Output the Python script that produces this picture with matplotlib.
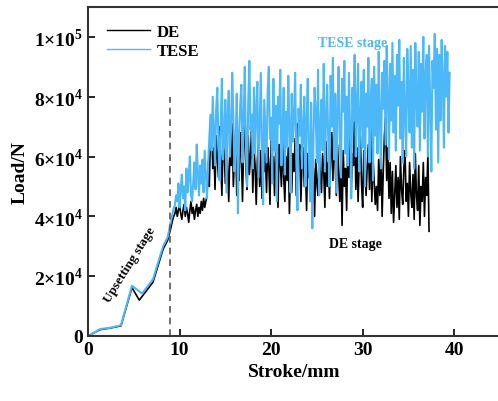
import matplotlib
matplotlib.use("Agg")
import matplotlib.pyplot as plt
import numpy as np

plt.rcParams["font.family"] = "Liberation Serif"
plt.rcParams["font.weight"] = "bold"
plt.rcParams["mathtext.fontset"] = "custom"
plt.rcParams["mathtext.rm"] = "Liberation Serif:bold"
plt.rcParams["mathtext.bf"] = "Liberation Serif:bold"

# upsetting stage (stroke mm, load kN)
de_up_x = [0, 0.5, 1.3, 2.5, 3.6, 4.8, 5.6, 7.1, 8.2, 8.7, 9.0, 9.3]
de_up_y = [0, 0.8, 2.1, 2.7, 3.4, 16.2, 12.0, 18.0, 29.0, 32.0, 35.5, 39.5]
tese_up_x = [0, 0.5, 1.3, 2.5, 3.6, 4.8, 5.9, 7.1, 8.2, 8.7, 9.0, 9.3]
tese_up_y = [0, 0.8, 2.3, 2.8, 3.6, 16.8, 14.2, 19.0, 30.0, 33.0, 37.5, 42.0]

# steady part, sampled every 0.125 mm from 9.5 mm (kN)
step = 0.125
de_load = [
    41, 43, 40, 42, 44, 41, 39, 42,
    44, 40, 43, 41, 38, 42, 45, 41,
    43, 39, 42, 44, 40, 43, 41, 45,
    42, 46, 43, 45, 47, 58, 50, 68,
    72, 56, 63, 49, 67, 60, 53, 70,
    58, 47, 65, 62, 51, 69, 55, 45,
    63, 57, 71, 50, 60, 66, 47, 58,
    52, 68, 61, 45, 64, 72, 56, 49,
    67, 54, 60, 70, 48, 63, 57, 44,
    59, 65, 50, 62, 46, 68, 55, 61,
    48, 63, 57, 44, 66, 52, 60, 47,
    62, 55, 43, 64, 58, 50, 67, 53,
    45, 60, 52, 63, 41, 57, 48, 61,
    55, 66, 47, 71, 59, 64, 45, 58,
    63, 50, 57, 42, 61, 53, 66, 49,
    44, 56, 40, 59, 51, 47, 62, 54,
    48, 61, 55, 43, 65, 50, 58, 46,
    60, 68, 52, 74, 57, 47, 64, 55,
    45, 59, 37, 62, 50, 56, 42, 65,
    53, 70, 48, 61, 57, 76, 49, 63,
    45, 58, 67, 51, 43, 62, 55, 47,
    57, 64, 49, 70, 45, 60, 52, 44,
    50, 42, 59, 47, 62, 40, 55, 67,
    73, 52, 63, 46, 58, 41, 55, 38,
    47, 57, 43, 53, 39, 60, 49, 44,
    56, 62, 45, 51, 40, 58, 48, 43,
    54, 39, 61, 47, 42, 57, 37, 50,
    45, 58, 40, 53, 47, 61, 35,
]
tese_load = [
    44, 47, 45, 51, 43, 49, 54, 46,
    50, 42, 56, 48, 53, 60, 47, 45,
    52, 58, 49, 64, 55, 47, 57, 51,
    59, 48, 62, 54, 46, 58, 66, 74,
    62, 80, 68, 57, 76, 83, 64, 52,
    71, 86, 59, 66, 79, 48, 74, 82,
    60, 69, 88, 73, 55, 64, 81, 41,
    67, 77, 84, 58, 72, 90, 63, 50,
    78, 92, 69, 74, 56, 83, 61, 76,
    85, 53, 70, 88, 64, 44, 79, 68,
    58, 82, 90, 66, 73, 51, 86, 62,
    77, 45, 80, 71, 89, 57, 68, 83,
    54, 75, 63, 87, 70, 48, 81, 65,
    73, 88, 59, 42, 76, 67, 84, 56,
    69, 80, 50, 72, 86, 61, 45, 78,
    36, 66, 83, 74, 58, 89, 47, 71,
    79, 62, 91, 55, 73, 84, 64, 50,
    87, 70, 93, 59, 81, 48, 76, 90,
    66, 53, 86, 75, 92, 61, 80, 57,
    88, 69, 46, 83, 72, 94, 60, 77,
    91, 55, 74, 85, 63, 89, 50, 81,
    70, 93, 58, 79, 86, 52, 90, 67,
    84, 61, 95, 73, 56, 88, 76, 92,
    64, 97, 80, 59, 91, 72, 98, 68,
    87, 62, 94, 77, 99, 66, 85, 58,
    93, 74, 60, 96, 81, 68, 97, 63,
    89, 56, 98, 79, 70, 95, 62, 91,
    75, 100, 66, 87, 94, 60, 97, 78,
    55, 92, 83, 101, 69, 96, 58, 94,
    72, 99, 86, 63, 97, 80, 95, 68,
    88,
]

x_ticks = [0, 10, 20, 30, 40]
y_ticks = [0, 2e4, 4e4, 6e4, 8e4, 1e5]
y_labels = ["0", r"$2{\times}10^{4}$", r"$4{\times}10^{4}$", r"$6{\times}10^{4}$",
            r"$8{\times}10^{4}$", r"$1{\times}10^{5}$"]

de_x = np.concatenate([de_up_x, 9.5 + step * np.arange(len(de_load))])
de_y = np.concatenate([de_up_y, de_load]) * 1000
tese_x = np.concatenate([tese_up_x, 9.5 + step * np.arange(len(tese_load))])
tese_y = np.concatenate([tese_up_y, tese_load]) * 1000

blue = "#4DB8F8"

fig = plt.figure(figsize=(4.98, 4.02), dpi=100)
ax = fig.add_axes([0.1767, 0.1617, 0.8273, 0.8184])

ax.plot(de_x, de_y, color="black", lw=1.2, label="DE")
ax.plot(tese_x, tese_y, color=blue, lw=1.5, label="TESE")
ax.plot([9, 9], [0, 8e4], color="#555555", lw=1.2, ls=(0, (4, 3)))

ax.set_xlim(0, 45)
ax.set_ylim(0, 1.1e5)
ax.set_xticks(x_ticks)
ax.set_yticks(y_ticks)
ax.set_yticklabels(y_labels)
ax.tick_params(direction="in", labelsize=14, width=1.2, length=5)
for lab in ax.get_xticklabels():
    lab.set_fontweight("bold")
ax.set_xlabel("Stroke/mm", fontsize=14, fontweight="bold")
ax.set_ylabel("Load/N", fontsize=14, fontweight="bold")
for s in ["left", "bottom", "top"]:
    ax.spines[s].set_linewidth(1.5)
    ax.spines[s].set_color("#333333")
ax.spines["right"].set_visible(False)

ax.text(28.9, 98000, "TESE stage", color=blue, fontsize=10, fontweight="bold",
        ha="center", va="center")
ax.text(29.2, 31000, "DE stage", color="black", fontsize=10, fontweight="bold",
        ha="center", va="center")
ax.text(4.6, 24000, "Upsetting stage", color="black", fontsize=9.5, fontweight="bold",
        ha="center", va="center", rotation=58)

leg = ax.legend(loc="upper left", frameon=False, fontsize=12, handlelength=2.6,
                handletextpad=0.4, labelspacing=0.2, bbox_to_anchor=(0.01, 0.995))
for line in leg.get_lines():
    line.set_linewidth(1.0)

fig.savefig("out.png", dpi=100)
